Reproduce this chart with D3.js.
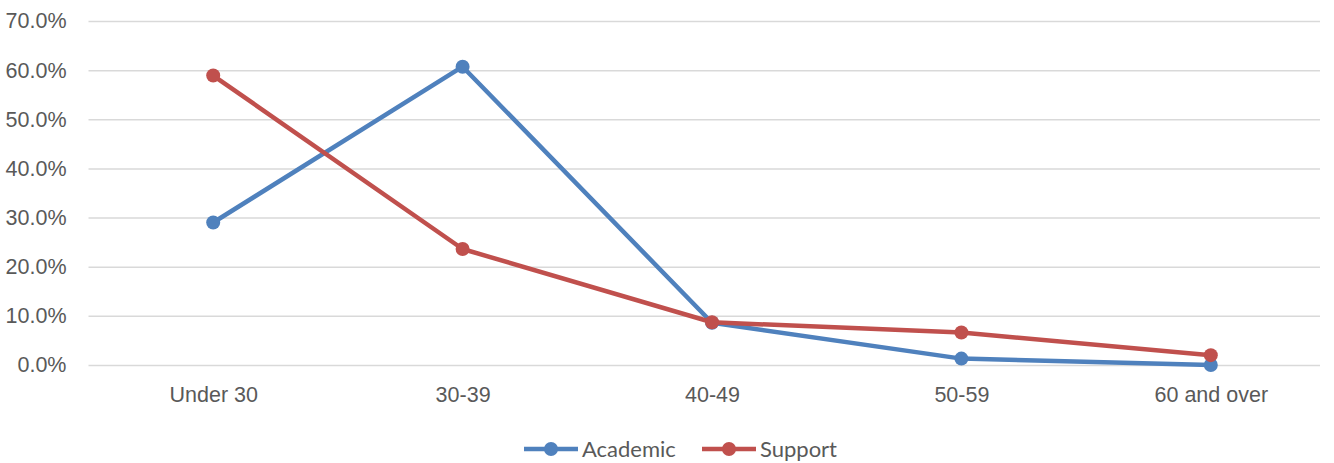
<!DOCTYPE html>
<html>
<head>
<meta charset="utf-8">
<script src="https://cdn.jsdelivr.net/npm/d3@7"></script>
<style>
  body { margin: 0; background: #fff; }
  svg { display: block; font-family: Lato, "Open Sans", sans-serif; }
</style>
</head>
<body>
<svg id="chart" width="1334" height="463"></svg>
<script>
// Age bands and share of staff in each band
const categories = ["Under 30", "30-39", "40-49", "50-59", "60 and over"];
const academic = [0.290, 0.607, 0.086, 0.013, 0.000];
const support = [0.589, 0.236, 0.087, 0.066, 0.020];
const yTicks = [0, 0.1, 0.2, 0.3, 0.4, 0.5, 0.6, 0.7];

const seriesList = [
  { name: "Academic", values: academic, color: "#4F81BD" },
  { name: "Support", values: support, color: "#C0504D" }
];

const svg = d3.select("#chart");
const plot = { left: 88.5, right: 1335.5, top: 21, bottom: 365 };

const x = d3.scalePoint().domain(categories).range([plot.left, plot.right]).padding(0.5);
const y = d3.scaleLinear().domain([0, 0.7]).range([plot.bottom, plot.top]);

// Horizontal gridlines with percentage labels
const yAxis = d3.axisLeft(y).tickValues(yTicks).tickFormat(d3.format(".1%"))
  .tickSize(-(1320 - plot.left)).tickPadding(22);
const gy = svg.append("g").attr("transform", `translate(${plot.left},0)`).call(yAxis);
gy.select(".domain").remove();
gy.selectAll(".tick line").attr("stroke", "#d9d9d9").attr("stroke-width", 1.5);
gy.selectAll(".tick text").attr("fill", "#595959").style("font-size", "21.5px");

// Category labels
const xAxis = d3.axisBottom(x).tickSize(0).tickPadding(22);
const gx = svg.append("g").attr("transform", `translate(0,${plot.bottom})`).call(xAxis);
gx.select(".domain").remove();
gx.selectAll(".tick text").attr("fill", "#595959").style("font-size", "21.5px");

// Lines and markers
const line = d3.line().x((d, i) => x(categories[i])).y(d => y(d));
seriesList.forEach(s => {
  svg.append("path").datum(s.values).attr("d", line)
    .attr("fill", "none").attr("stroke", s.color).attr("stroke-width", 4.5)
    .attr("stroke-linejoin", "round");
  svg.append("g").selectAll("circle").data(s.values).join("circle")
    .attr("cx", (d, i) => x(categories[i])).attr("cy", d => y(d))
    .attr("r", 7).attr("fill", s.color);
});

// Legend
const legendX = [524, 702];
const legend = svg.append("g").attr("transform", "translate(0,449)");
seriesList.forEach((s, i) => {
  const g = legend.append("g").attr("transform", `translate(${legendX[i]},0)`);
  g.append("line").attr("x1", 0).attr("x2", 54).attr("stroke", s.color).attr("stroke-width", 4.5);
  g.append("circle").attr("cx", 27).attr("r", 7).attr("fill", s.color);
  g.append("text").attr("x", 58).attr("dy", "0.35em").attr("fill", "#595959")
    .style("font-size", "22px").text(s.name);
});
</script>
</body>
</html>
